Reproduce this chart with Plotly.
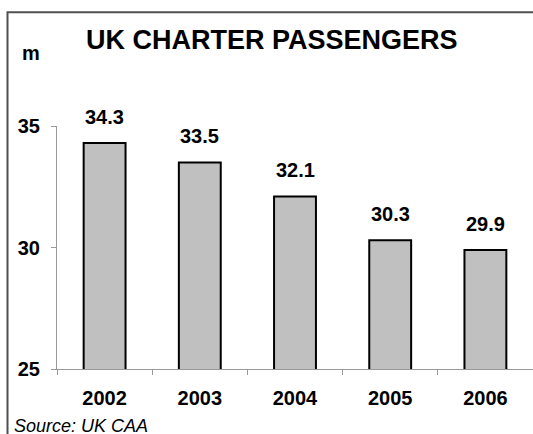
import plotly.graph_objects as go

years = ["2002", "2003", "2004", "2005", "2006"]
passengers = [34.3, 33.5, 32.1, 30.3, 29.9]
y_ticks = [25, 30, 35]

W, H = 533, 434
L, R, T, B = 57, 0, 126, 65
FONT = "Liberation Sans, Arial, sans-serif"

def px_x(px):
    return (px - L) / (W - L - R)

def px_y(py):
    return (H - B - py) / (H - T - B)

fig = go.Figure()
fig.add_trace(go.Bar(
    x=years, y=passengers,
    marker=dict(color="#c0c0c0", line=dict(color="#000000", width=2)),
    width=0.44,
    hoverinfo="skip",
))

for i, v in enumerate(passengers):
    fig.add_annotation(xref="x", yref="y", x=i, y=v, text=f"<b>{v:.1f}</b>",
                       showarrow=False, yshift=26, yanchor="middle", xanchor="center",
                       font=dict(family=FONT, size=20, color="#000"))

fig.add_annotation(xref="paper", yref="paper", x=px_x(272), y=px_y(40),
                   text="<b>UK CHARTER PASSENGERS</b>", showarrow=False,
                   xanchor="center", yanchor="middle",
                   font=dict(family=FONT, size=27, color="#000"))
fig.add_annotation(xref="paper", yref="paper", x=px_x(31), y=px_y(53),
                   text="<b>m</b>", showarrow=False,
                   xanchor="center", yanchor="middle",
                   font=dict(family=FONT, size=20, color="#000"))
fig.add_annotation(xref="paper", yref="paper", x=px_x(12), y=px_y(426),
                   text="<i>Source: UK CAA</i>", showarrow=False,
                   xanchor="left", yanchor="middle",
                   font=dict(family=FONT, size=18, color="#000"))

fig.add_shape(type="rect", xref="paper", yref="paper",
              x0=px_x(7.5), x1=px_x(560), y0=px_y(460), y1=px_y(12.3),
              line=dict(color="#505050", width=2), fillcolor="rgba(0,0,0,0)",
              layer="below")

fig.update_layout(
    width=W, height=H,
    margin=dict(l=L, r=R, t=T, b=B, pad=0),
    paper_bgcolor="white", plot_bgcolor="white",
    showlegend=False,
    font=dict(family=FONT, color="#000"),
    xaxis=dict(
        type="category", range=[-0.5, 4.5],
        showline=True, linecolor="#999999", linewidth=1,
        ticks="outside", ticklen=5, tickcolor="#999999", tickson="boundaries",
        showgrid=False, zeroline=False,
        tickfont=dict(family=FONT, size=20, color="#000", weight="bold"),
        ticklabelstandoff=11,
    ),
    yaxis=dict(
        range=[25, 35], tickvals=y_ticks, ticktext=[str(t) for t in y_ticks],
        showline=True, linecolor="#999999", linewidth=1,
        ticks="outside", ticklen=5, tickcolor="#999999",
        showgrid=False, zeroline=False,
        tickfont=dict(family=FONT, size=20, color="#000", weight="bold"),
        ticklabelstandoff=7,
    ),
)

fig.write_html(
    "out.html",
    config={"displayModeBar": False},
    post_script="document.body.style.margin='0';document.body.style.overflow='hidden';",
)
